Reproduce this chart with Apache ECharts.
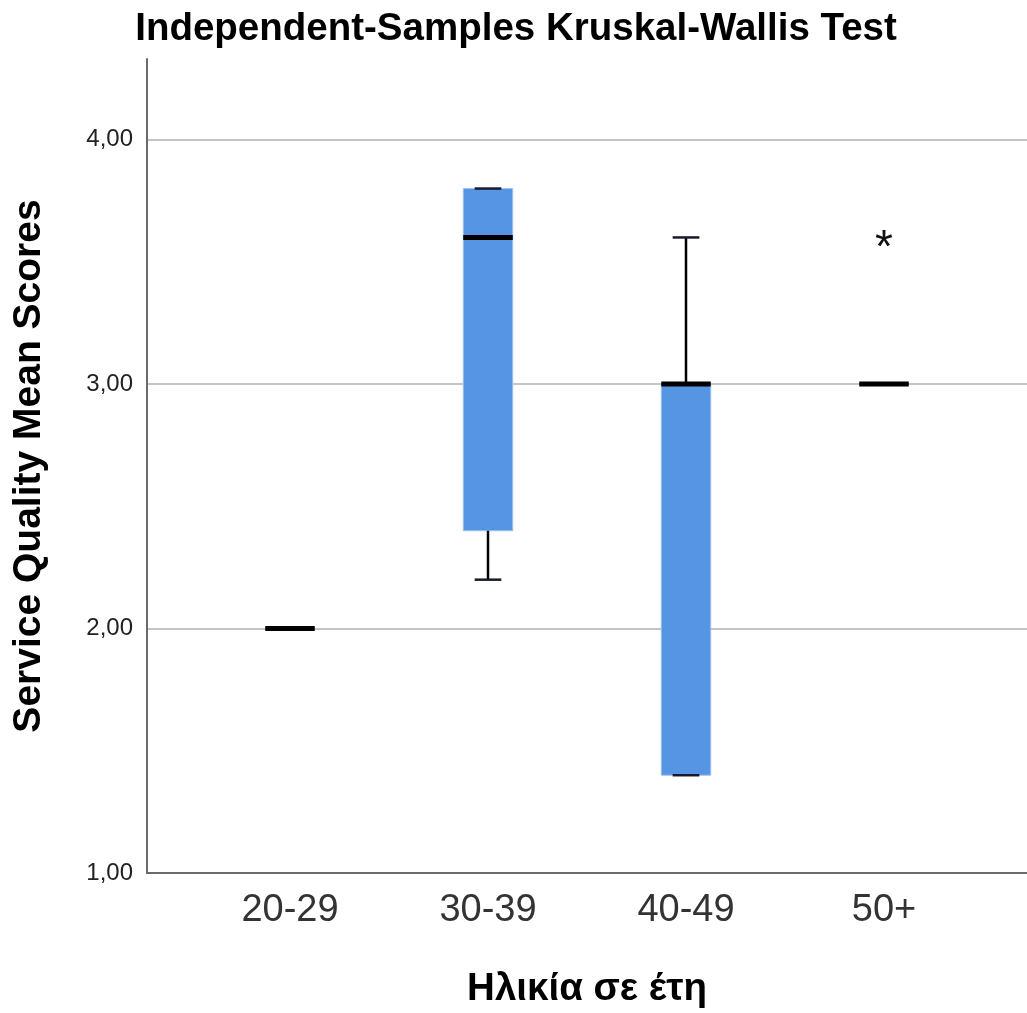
<!DOCTYPE html>
<html>
<head>
<meta charset="utf-8">
<script src="https://cdn.jsdelivr.net/npm/echarts@6/dist/echarts.min.js"></script>
<style>
html,body{margin:0;padding:0;background:#fff;}
#chart{width:1027px;height:1013px;}
</style>
</head>
<body>
<div id="chart"></div>
<script>
const categories = ['20-29', '30-39', '40-49', '50+'];
const minVals    = [2.0, 2.2, 1.4, 3.0];
const q1Vals     = [2.0, 2.4, 1.4, 3.0];
const medianVals = [2.0, 3.6, 3.0, 3.0];
const q3Vals     = [2.0, 3.8, 3.0, 3.0];
const maxVals    = [2.0, 3.8, 3.6, 3.0];
const outlierCategories = ['50+'];
const outlierValues = [3.6];
const yMin = 1, yMax = 4.33, yInterval = 1;

const FONT = "'Liberation Sans', Arial, sans-serif";
const chart = echarts.init(document.getElementById('chart'));

const boxData = categories.map((c, i) => [i, minVals[i], q1Vals[i], medianVals[i], q3Vals[i], maxVals[i]]);
const outlierData = outlierCategories.map((c, i) => [categories.indexOf(c), outlierValues[i]]);

function renderBox(params, api) {
  const xi = api.value(0);
  const mn = api.value(1), q1 = api.value(2), md = api.value(3), q3 = api.value(4), mx = api.value(5);
  const bw = api.size([1, 0])[0] * 0.25;
  const cx = api.coord([xi, md])[0];
  const y = v => api.coord([xi, v])[1];
  const children = [];
  if (q3 > q1) {
    children.push({type: 'rect', shape: {x: cx - bw / 2, y: y(q3), width: bw, height: y(q1) - y(q3)},
      style: {fill: '#5595e4', stroke: '#9fc3f0', lineWidth: 1}});
  }
  if (mx > q3) {
    children.push({type: 'line', shape: {x1: cx, y1: y(q3), x2: cx, y2: y(mx)}, style: {stroke: '#000', lineWidth: 2.5}});
  }
  if (mn < q1) {
    children.push({type: 'line', shape: {x1: cx, y1: y(q1), x2: cx, y2: y(mn)}, style: {stroke: '#000', lineWidth: 2.5}});
  }
  if (mx > mn) {
    children.push({type: 'line', shape: {x1: cx - bw * 0.27, y1: y(mx), x2: cx + bw * 0.27, y2: y(mx)}, style: {stroke: '#1a1a2e', lineWidth: 2.5}});
    children.push({type: 'line', shape: {x1: cx - bw * 0.27, y1: y(mn), x2: cx + bw * 0.27, y2: y(mn)}, style: {stroke: '#1a1a2e', lineWidth: 2.5}});
  }
  children.push({type: 'line', shape: {x1: cx - bw / 2, y1: y(md), x2: cx + bw / 2, y2: y(md)}, style: {stroke: '#000', lineWidth: 5}});
  return {type: 'group', children: children};
}

function renderOutlier(params, api) {
  const p = api.coord([api.value(0), api.value(1)]);
  return {type: 'text', style: {text: '*', x: p[0], y: p[1] + 12, font: '46px ' + FONT, fill: '#111', align: 'center', verticalAlign: 'middle'}};
}

const option = {
  animation: false,
  backgroundColor: '#fff',
  title: {
    text: 'Independent-Samples Kruskal-Wallis Test',
    left: 511, textAlign: 'center', top: 5,
    textStyle: {fontFamily: FONT, fontSize: 38.5, fontWeight: 'bold', color: '#000'}
  },
  grid: [
    {left: 147, right: 0, top: 59, bottom: 140, outerBoundsMode: 'none', containLabel: false},
    {left: 191, width: 792, top: 59, bottom: 140, outerBoundsMode: 'none', containLabel: false}
  ],
  xAxis: [
    {gridIndex: 0, type: 'value', min: 0, max: 1, axisLine: {show: true, lineStyle: {color: '#6a6a6a', width: 2}},
      axisTick: {show: false}, axisLabel: {show: false}, splitLine: {show: false}},
    {gridIndex: 1, type: 'category', data: categories, boundaryGap: true,
      axisLine: {show: false}, axisTick: {show: false},
      axisLabel: {fontFamily: FONT, fontSize: 38, color: '#333', margin: 19},
      name: 'Ηλικία σε έτη', nameLocation: 'middle', nameGap: 97, nameMoveOverlap: false,
      nameTextStyle: {fontFamily: FONT, fontSize: 38.5, fontWeight: 'bold', color: '#000'}}
  ],
  yAxis: [
    {gridIndex: 0, type: 'value', min: yMin, max: yMax, interval: yInterval,
      axisLine: {show: true, lineStyle: {color: '#6a6a6a', width: 2}},
      axisTick: {show: false},
      axisLabel: {fontFamily: FONT, fontSize: 24, color: '#222', margin: 14, showMaxLabel: false,
        formatter: v => (Math.abs(v - Math.round(v)) < 1e-6 ? v.toFixed(2).replace('.', ',') : '')},
      splitLine: {show: true, showMinLine: false, showMaxLine: false, lineStyle: {color: '#c4c4c4', width: 2}},
      name: 'Service Quality Mean Scores', nameLocation: 'middle', nameRotate: 90, nameGap: 98, nameMoveOverlap: false,
      nameTextStyle: {fontFamily: FONT, fontSize: 39, fontWeight: 'bold', color: '#000'}},
    {gridIndex: 1, type: 'value', min: yMin, max: yMax, interval: yInterval, show: false}
  ],
  series: [
    {type: 'custom', xAxisIndex: 1, yAxisIndex: 1, data: boxData, renderItem: renderBox,
      encode: {x: 0, y: [1, 2, 3, 4, 5]}, z: 3},
    {type: 'custom', xAxisIndex: 1, yAxisIndex: 1, data: outlierData, renderItem: renderOutlier,
      encode: {x: 0, y: 1}, z: 4}
  ]
};
chart.setOption(option);
</script>
</body>
</html>
